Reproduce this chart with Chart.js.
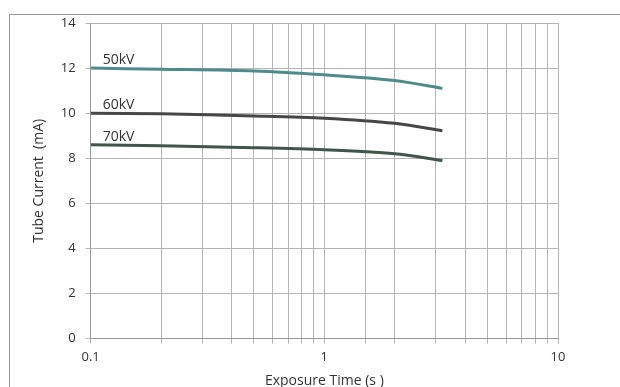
<!DOCTYPE html>
<html>
<head>
<meta charset="utf-8">
<script src="https://cdn.jsdelivr.net/npm/chart.js@4"></script>
<style>
  body { margin: 0; background: #fff; overflow: hidden; }
  #wrap { position: relative; width: 620px; height: 387px; overflow: hidden; }
  #frame { position: absolute; left: 9px; top: 14px; right: 0; bottom: 0;
           border-left: 1px solid #999; border-top: 1px solid #999; }
  canvas { position: absolute; left: 0; top: 0; }
</style>
</head>
<body>
<div id="wrap">
  <div id="frame"></div>
  <canvas id="tube-chart" width="620" height="389"></canvas>
</div>
<script>
// exposure times (s) and tube current (mA) per voltage
var times = [0.1, 0.2, 0.5, 1, 2, 3.2];
var kv50 = [12.0, 11.95, 11.87, 11.7, 11.45, 11.1];
var kv60 = [10.0, 9.97, 9.88, 9.78, 9.55, 9.22];
var kv70 = [8.6, 8.55, 8.47, 8.38, 8.2, 7.9];
var seriesNames = ['50kV', '60kV', '70kV'];
var xTickLabels = [0.1, 1, 10];

function pts(vals) {
    return vals.map(function (v, i) { return { x: times[i], y: v }; });
}

// writes the kV name just above the start of each curve
var lineNames = {
    id: 'lineNames',
    afterDatasetsDraw: function (chart) {
        var c = chart.ctx;
        c.save();
        c.font = '14px "Open Sans"';
        c.fillStyle = '#333';
        c.textBaseline = 'alphabetic';
        chart.data.datasets.forEach(function (ds, i) {
            var p = chart.getDatasetMeta(i).data[0];
            c.fillText(ds.label, p.x + 12, p.y - 4);
        });
        c.restore();
    }
};

Chart.defaults.font.family = '"Open Sans", sans-serif';
Chart.defaults.color = '#333';

var ctx = document.getElementById('tube-chart').getContext('2d');
var myChart = new Chart(ctx, {
    type: 'line',
    data: {
        datasets: [{
            label: seriesNames[0],
            data: pts(kv50),
            borderColor: '#4f8b8c',
            borderWidth: 3
        }, {
            label: seriesNames[1],
            data: pts(kv60),
            borderColor: '#474747',
            borderWidth: 3
        }, {
            label: seriesNames[2],
            data: pts(kv70),
            borderColor: '#3f5649',
            borderWidth: 3
        }]
    },
    options: {
        responsive: false,
        animation: false,
        layout: { padding: { left: 27, top: 23, right: 62, bottom: 0 } },
        elements: { point: { radius: 0 }, line: { tension: 0.3 } },
        plugins: { legend: { display: false }, tooltip: { enabled: false } },
        scales: {
            x: {
                type: 'logarithmic',
                min: 0.1,
                max: 10,
                grid: { color: '#b5b5b5', tickLength: 5 },
                border: { color: '#999' },
                ticks: {
                    autoSkip: false,
                    maxRotation: 0,
                    padding: 6,
                    font: { size: 13 },
                    callback: function (v) {
                        return xTickLabels.some(function (t) { return Math.abs(t - v) < 1e-9; }) ? String(v) : '';
                    }
                },
                title: { display: true, text: 'Exposure Time (s )', font: { size: 14 }, padding: { top: 1, bottom: 0 } }
            },
            y: {
                min: 0,
                max: 14,
                grid: { color: '#b5b5b5', tickLength: 5 },
                border: { color: '#999' },
                ticks: { stepSize: 2, font: { size: 13 }, padding: 10 },
                title: { display: true, text: 'Tube Current  (mA)', font: { size: 14 }, padding: { bottom: 3 } }
            }
        }
    },
    plugins: [lineNames]
});
</script>
</body>
</html>
